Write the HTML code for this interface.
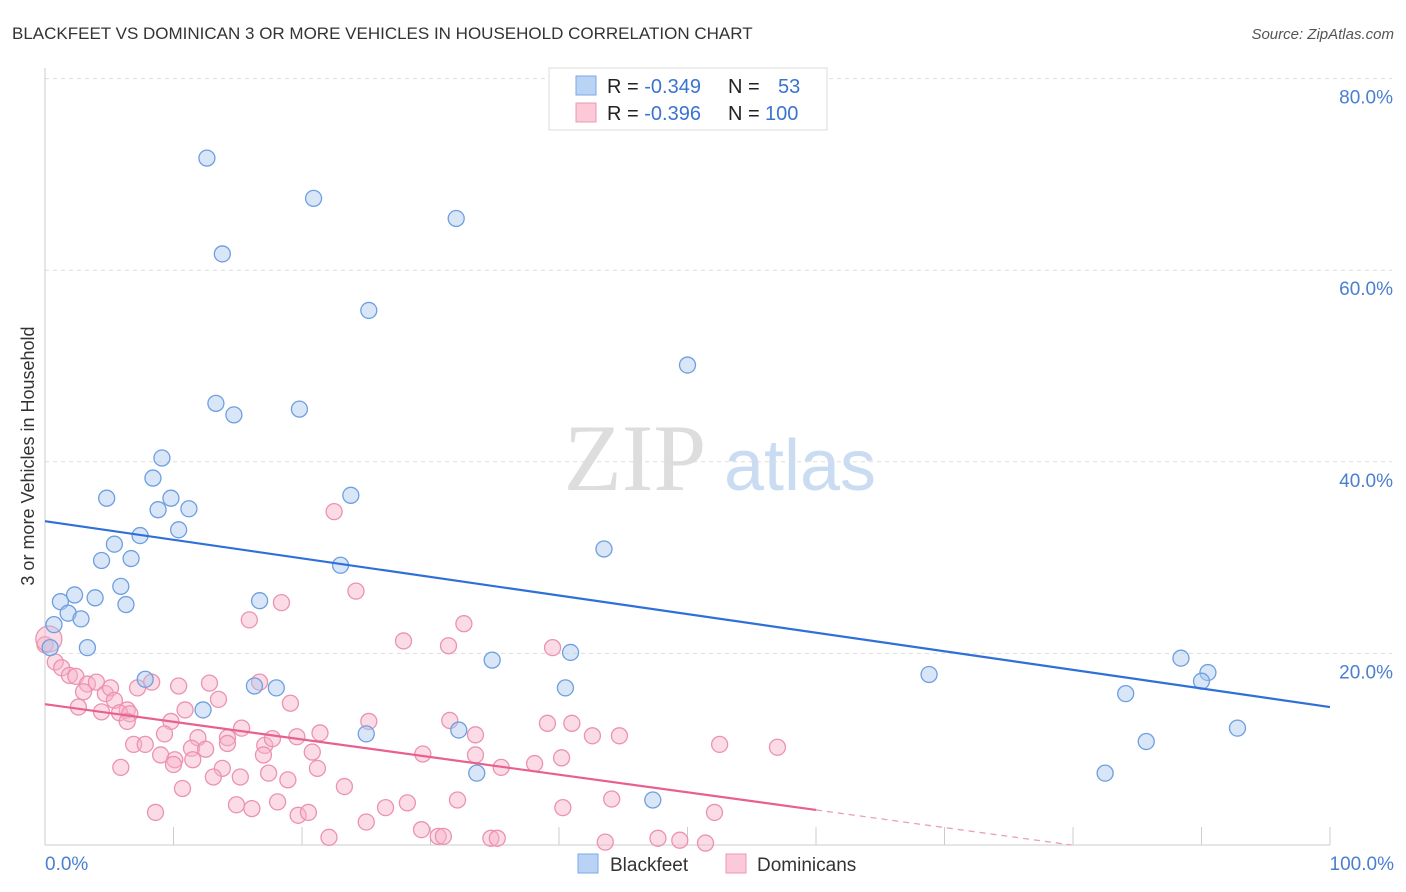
<!DOCTYPE html>
<html><head><meta charset="utf-8"><style>
body{margin:0;background:#fff;font-family:"Liberation Sans",sans-serif;}
svg{display:block}
</style></head><body>
<svg id="chart" width="1406" height="892" xmlns="http://www.w3.org/2000/svg">
<text x="12" y="39" font-size="17" fill="#333">BLACKFEET VS DOMINICAN 3 OR MORE VEHICLES IN HOUSEHOLD CORRELATION CHART</text>
<text x="1394" y="39" font-size="15" fill="#555" font-style="italic" text-anchor="end">Source: ZipAtlas.com</text>
<text x="34" y="456" font-size="18" fill="#333" text-anchor="middle" transform="rotate(-90 34 456)">3 or more Vehicles in Household</text>
<g><text x="635" y="490" font-size="95" fill="#ddd" font-family="Liberation Serif" text-anchor="middle">ZIP</text><text x="800" y="490" font-size="72" fill="#c9dcf2" text-anchor="middle">atlas</text></g>
<g id="grid"></g><g id="axes"></g><g id="pinkpts"></g><g id="bluepts"></g><g id="lines"></g>
<g>
<rect x="549" y="68" width="278" height="62" fill="#fff" stroke="#ddd"/>
<rect x="576" y="76" width="20" height="19" fill="#b9d3f5" stroke="#7aa8e6"/>
<rect x="576" y="103" width="20" height="19" fill="#fbc9d7" stroke="#eb98b3"/>
<text x="607" y="93" font-size="20" fill="#222">R = <tspan fill="#3a74d0">-0.349</tspan><tspan x="728">N =</tspan><tspan x="778" fill="#3a74d0">53</tspan></text>
<text x="607" y="120" font-size="20" fill="#222">R = <tspan fill="#3a74d0">-0.396</tspan><tspan x="728">N =</tspan><tspan x="765" fill="#3a74d0">100</tspan></text>
</g>
<g>
<rect x="578" y="854" width="20" height="19" fill="#b9d3f5" stroke="#7aa8e6"/>
<text x="610" y="871" font-size="19" fill="#333">Blackfeet</text>
<rect x="726" y="854" width="20" height="19" fill="#fbc9d7" stroke="#eb98b3"/>
<text x="757" y="871" font-size="19" fill="#333">Dominicans</text>
</g>
</svg>
<script>
const yTicks=[20,40,60,80];
const yTickLabels=["20.0%","40.0%","60.0%","80.0%"];
const xTickLabels=["0.0%","100.0%"];
const blueX=[12.6,20.9,32.0,13.8,25.2,50.0,13.3,14.7,19.8,9.1,8.4,4.8,9.8,23.8,8.8,11.2,10.4,7.4,5.4,4.4,6.7,43.5,23.0,5.9,2.3,3.9,1.2,6.3,16.7,1.8,2.8,0.7,3.3,0.4,40.9,34.8,7.8,18.0,16.3,40.5,12.3,68.8,88.4,90.5,90.0,84.1,25.0,32.2,92.8,85.7,33.6,82.5,47.3];
const blueY=[71.7,67.5,65.4,61.7,55.8,50.1,46.1,44.9,45.5,40.4,38.3,36.2,36.2,36.5,35.0,35.1,32.9,32.3,31.4,29.7,29.9,30.9,29.2,27.0,26.1,25.8,25.4,25.1,25.5,24.2,23.6,23.0,20.6,20.6,20.1,19.3,17.3,16.4,16.6,16.4,14.1,17.8,19.5,18.0,17.1,15.8,11.6,12.0,12.2,10.8,7.5,7.5,4.7];
const pinkX=[22.5,18.4,24.2,15.9,27.9,32.6,31.4,39.5,0,0.8,1.3,1.9,2.4,3.3,4.0,4.7,3.0,5.1,5.4,4.4,2.6,6.4,5.8,6.6,8.3,7.2,10.4,12.8,16.7,13.5,19.1,10.9,9.8,6.4,11.9,9.3,6.9,7.8,9.0,10.1,11.4,12.5,14.2,15.3,14.2,17.1,17.7,19.6,21.4,20.8,17.0,11.5,5.9,10.0,13.8,13.1,15.2,17.4,18.9,21.2,23.3,25.2,29.4,31.5,33.5,33.5,35.5,38.1,39.1,41.0,42.6,44.7,40.2,52.5,57.0,10.7,8.6,14.9,16.1,18.1,19.7,20.5,25.0,26.5,28.2,29.3,32.1,30.6,31.0,34.7,35.2,40.3,44.1,52.1,22.1,43.6,47.7,49.4,51.4,0.3];
const pinkY=[34.8,25.3,26.5,23.5,21.3,23.1,20.8,20.6,20.9,19.1,18.5,17.7,17.6,16.8,17.0,15.8,16.0,16.4,15.1,13.9,14.4,14.1,13.8,13.7,17.0,16.4,16.6,16.9,17.0,15.2,14.8,14.1,12.9,12.9,11.2,11.6,10.5,10.5,9.4,8.9,10.1,10.0,11.2,12.2,10.6,10.4,11.1,11.3,11.7,9.7,9.4,8.9,8.1,8.4,8.0,7.1,7.1,7.5,6.8,8.0,6.1,12.9,9.5,13.0,11.5,9.4,8.1,8.5,12.7,12.7,11.4,11.4,9.1,10.5,10.2,5.9,3.4,4.2,3.8,4.5,3.1,3.4,2.4,3.9,4.4,1.6,4.7,0.9,0.9,0.7,0.7,3.9,4.8,3.4,0.8,0.3,0.7,0.5,0.2,21.5];
const blueTrend=[33.8,14.4];
const pinkTrend=[14.7,-0.184];
const NS="http://www.w3.org/2000/svg";
const X0=45,X1=1330,Y0=845,PPY=9.58;
const sx=v=>X0+(X1-X0)*v/100;
const sy=v=>Y0-v*PPY;
function mk(tag,attrs,parent){const e=document.createElementNS(NS,tag);for(const k in attrs)e.setAttribute(k,attrs[k]);document.getElementById(parent).appendChild(e);return e;}
yTicks.forEach((t,i)=>{
  const g=mk('line',{x1:X0,x2:1392,y1:sy(t),y2:sy(t),stroke:'#ddd','stroke-dasharray':'4,4'},'grid');
  
  
  const l=mk('text',{x:1393,y:sy(t)+25,'font-size':19,fill:'#4a7fd0','text-anchor':'end'},'axes');
  l.textContent=yTickLabels[i];
  
  
});
const ax=mk('line',{x1:X0,x2:X0,y1:68,y2:Y0,stroke:'#ccc'},'axes');


const bx=mk('line',{x1:X0,x2:X1,y1:Y0,y2:Y0,stroke:'#ccc'},'axes');


for(let i=0;i<=10;i++){
  const t=mk('line',{x1:sx(i*10),x2:sx(i*10),y1:Y0,y2:Y0-18,stroke:'#ccc'},'axes');
  
  
}
[[0,'start',X0],[1,'end',1394]].forEach(([i,a,x])=>{
  const l=mk('text',{x:x,y:870,'font-size':19,fill:'#4a7fd0','text-anchor':a},'axes');
  l.textContent=xTickLabels[i];
  
  
});
pinkX.forEach((v,i)=>{
  const big=i===pinkX.length-1;
  const c=mk('circle',{cx:sx(v),cy:sy(pinkY[i]),r:big?13:8,fill:'rgba(246,178,200,0.45)',stroke:'#ec92b0','stroke-width':1.3},'pinkpts');
  
  
});
blueX.forEach((v,i)=>{
  const c=mk('circle',{cx:sx(v),cy:sy(blueY[i]),r:8,fill:'rgba(168,200,240,0.45)',stroke:'#6e9fe0','stroke-width':1.3},'bluepts');
  
  
});
const bl=mk('line',{x1:sx(0),y1:sy(blueTrend[0]),x2:sx(100),y2:sy(blueTrend[1]),stroke:'#2f6fd8','stroke-width':2.2},'lines');


const pf=x=>pinkTrend[0]+pinkTrend[1]*x;
const pl=mk('line',{x1:sx(0),y1:sy(pf(0)),x2:sx(60),y2:sy(pf(60)),stroke:'#e8608e','stroke-width':2.2},'lines');


const zx=-pinkTrend[0]/pinkTrend[1];
const pd=mk('line',{x1:sx(60),y1:sy(pf(60)),x2:sx(zx),y2:sy(0),stroke:'#e8a0b8','stroke-width':1.3,'stroke-dasharray':'6,5'},'lines');


</script>
</body></html>
